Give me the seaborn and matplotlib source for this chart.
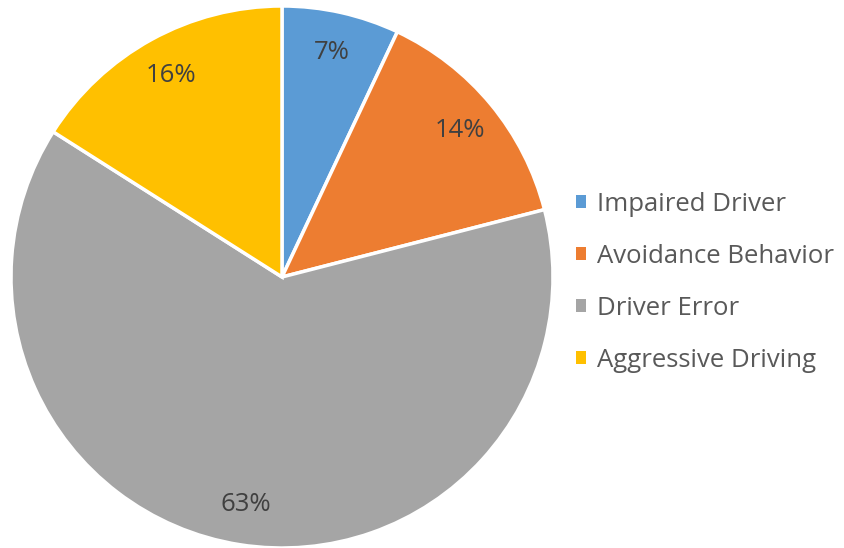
import matplotlib
matplotlib.use("Agg")
import matplotlib.pyplot as plt
import seaborn as sns
from matplotlib.patches import Patch

# data
categories = ['Impaired Driver', 'Avoidance Behavior', 'Driver Error', 'Aggressive Driving']
shares = [7, 14, 63, 16]
colours = ['#5B9BD5', '#ED7D31', '#A5A5A5', '#FFC000']

sns.set_theme(style='white')
plt.rcParams['font.family'] = ['Open Sans', 'DejaVu Sans']

fig = plt.figure(figsize=(8.44, 5.48), dpi=100)
ax = fig.add_axes([11 / 844, 0.0, 542 / 844, 542 / 548])

wedges, texts, autotexts = ax.pie(
    shares, colors=colours, startangle=90, counterclock=False,
    autopct='%1.0f%%', pctdistance=0.85,
    wedgeprops=dict(edgecolor='white', linewidth=2.5),
    textprops=dict(color='#404040', fontsize=18.5))
ax.set_xlim(-1, 1)
ax.set_ylim(-1, 1)
ax.set_aspect('equal')

handles = [Patch(facecolor=c, edgecolor='none') for c in colours]
fig.legend(handles, categories, loc='center left', bbox_to_anchor=(0.682, 0.485),
           frameon=False, fontsize=18.5, labelcolor='#595959',
           handlelength=0.4, handleheight=0.4, handletextpad=0.45,
           labelspacing=1.05, borderpad=0, borderaxespad=0)

fig.savefig('out.png', dpi=100)
